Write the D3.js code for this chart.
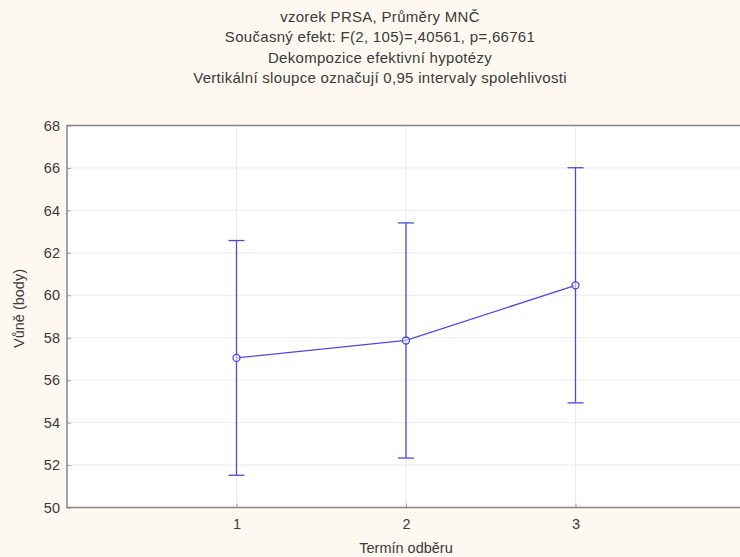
<!DOCTYPE html>
<html>
<head>
<meta charset="utf-8">
<script src="https://cdn.jsdelivr.net/npm/d3@7"></script>
<style>
  html, body { margin: 0; padding: 0; background: #fdf9f0; }
  svg { display: block; font-family: Arial, "Liberation Sans", sans-serif; }
</style>
</head>
<body>
<svg id="chart" width="740" height="557"></svg>
<script>
// Sampling terms and fitted means with 0.95 confidence limits
const terms = [1, 2, 3];
const means = [57.05, 57.87, 60.47];
const lower = [51.52, 52.33, 54.93];
const upper = [62.58, 63.41, 66.01];
const yTicks = [50, 52, 54, 56, 58, 60, 62, 64, 66, 68];
const titleLines = [
  "vzorek PRSA, Průměry MNČ",
  "Současný efekt: F(2, 105)=,40561, p=,66761",
  "Dekompozice efektivní hypotézy",
  "Vertikální sloupce označují 0,95 intervaly spolehlivosti"
];
const xTitle = "Termín odběru";
const yTitle = "Vůně (body)";

const svg = d3.select("#chart");
const W = 740, H = 557;
const plot = { left: 67, top: 125.5, right: 745, bottom: 507.5 };
const fontPx = "14.5px";

const x = d3.scaleLinear().domain([0, 4]).range([plot.left, plot.right]);
const y = d3.scaleLinear().domain([50, 68]).range([plot.bottom, plot.top]);

// page background
svg.append("rect").attr("width", W).attr("height", H).attr("fill", "#fdf9f0");

// plot area
svg.append("rect")
  .attr("x", plot.left).attr("y", plot.top)
  .attr("width", plot.right - plot.left).attr("height", plot.bottom - plot.top)
  .attr("fill", "#ffffff");

// grid lines
svg.append("g").selectAll("line").data(yTicks.slice(1, -1)).join("line")
  .attr("x1", plot.left).attr("x2", plot.right)
  .attr("y1", d => y(d)).attr("y2", d => y(d))
  .attr("stroke", "#ececec").attr("stroke-width", 1);
svg.append("g").selectAll("line").data(terms).join("line")
  .attr("x1", d => x(d)).attr("x2", d => x(d))
  .attr("y1", plot.top).attr("y2", plot.bottom)
  .attr("stroke", "#ececec").attr("stroke-width", 1);

// axes
const yAxis = d3.axisLeft(y).tickValues(yTicks).tickSize(-4).tickPadding(7);
const gy = svg.append("g").attr("transform", `translate(${plot.left},0)`).call(yAxis);
const xAxis = d3.axisBottom(x).tickValues(terms).tickFormat(d3.format("d"))
  .tickSize(-4).tickPadding(11);
const gx = svg.append("g").attr("transform", `translate(0,${plot.bottom})`).call(xAxis);
[gy, gx].forEach(g => {
  g.select(".domain").remove();
  g.selectAll(".tick line").attr("stroke", "#a0a0a0");
  g.selectAll(".tick text").attr("fill", "#3a3a3a").style("font-size", fontPx)
    .style("font-family", "Arial, 'Liberation Sans', sans-serif");
});

// frame
svg.append("rect")
  .attr("x", plot.left).attr("y", plot.top)
  .attr("width", plot.right - plot.left).attr("height", plot.bottom - plot.top)
  .attr("fill", "none").attr("stroke", "#858585").attr("stroke-width", 1.5);

// titles
svg.append("g").selectAll("text").data(titleLines).join("text")
  .attr("x", 380).attr("y", (d, i) => 22 + i * 20.3)
  .attr("text-anchor", "middle").attr("fill", "#3a3a3a")
  .style("font-size", "15px").style("letter-spacing", "0.3px").text(d => d);

svg.append("text")
  .attr("x", (plot.left + plot.right) / 2).attr("y", 553)
  .attr("text-anchor", "middle").attr("fill", "#3a3a3a")
  .style("font-size", fontPx).text(xTitle);

svg.append("text")
  .attr("transform", `translate(24,${(plot.top + plot.bottom) / 2 - 8}) rotate(-90)`)
  .attr("text-anchor", "middle").attr("fill", "#3a3a3a")
  .style("font-size", fontPx).text(yTitle);

// series
const blue = "#4a4ae0";
const data = terms.map((t, i) => ({ t, m: means[i], lo: lower[i], hi: upper[i] }));
const g = svg.append("g");

// error bars
g.selectAll(".eb").data(data).join("line")
  .attr("x1", d => x(d.t)).attr("x2", d => x(d.t))
  .attr("y1", d => y(d.lo)).attr("y2", d => y(d.hi))
  .attr("stroke", blue).attr("stroke-width", 1.3);
["lo", "hi"].forEach(k => {
  g.selectAll(".cap-" + k).data(data).join("line")
    .attr("x1", d => x(d.t) - 8).attr("x2", d => x(d.t) + 8)
    .attr("y1", d => y(d[k])).attr("y2", d => y(d[k]))
    .attr("stroke", blue).attr("stroke-width", 1.3);
});

// mean line
g.append("path").datum(data)
  .attr("d", d3.line().x(d => x(d.t)).y(d => y(d.m)))
  .attr("fill", "none").attr("stroke", blue).attr("stroke-width", 1.3);

// markers
g.selectAll("circle").data(data).join("circle")
  .attr("cx", d => x(d.t)).attr("cy", d => y(d.m)).attr("r", 3.5)
  .attr("fill", "#ffffff").attr("fill-opacity", 0.6)
  .attr("stroke", blue).attr("stroke-width", 1.3);
</script>
</body>
</html>
